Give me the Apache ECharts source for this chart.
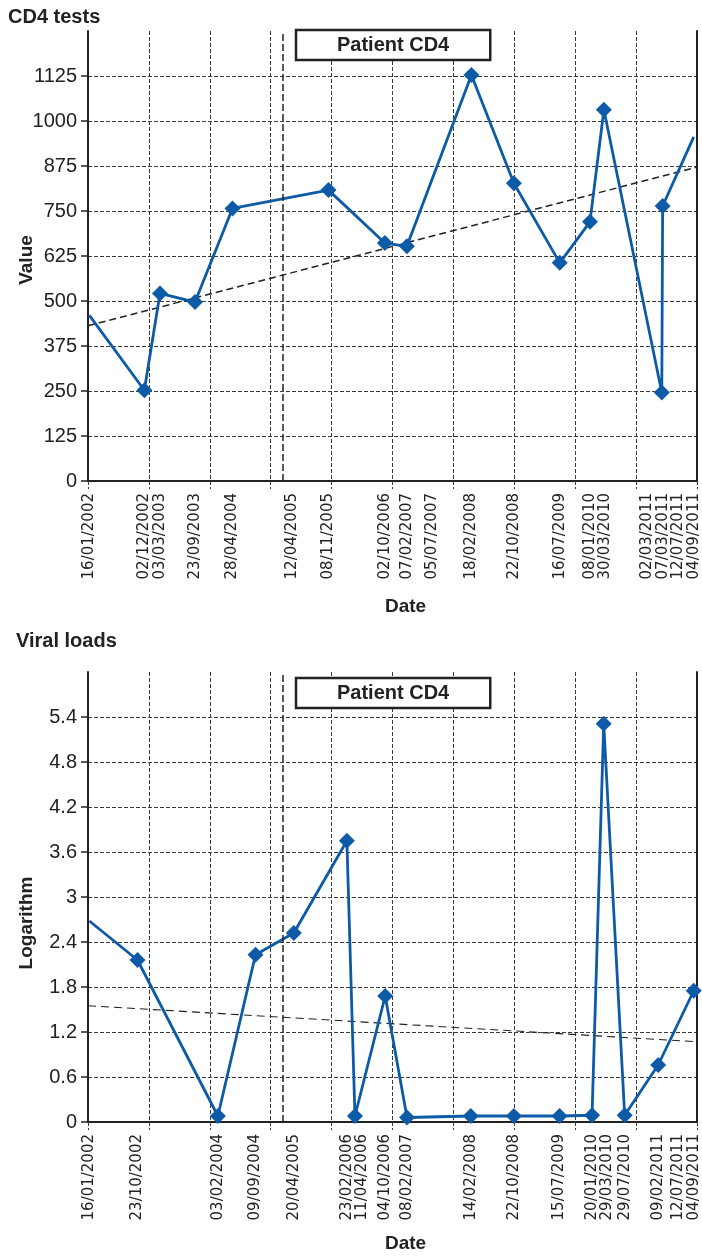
<!DOCTYPE html>
<html>
<head>
<meta charset="utf-8">
<script src="https://cdn.jsdelivr.net/npm/echarts@6/dist/echarts.min.js"></script>
<style>
html,body{margin:0;padding:0;background:#fff;}
#c{width:702px;height:1258px;}
</style>
</head>
<body>
<div id="c"></div>
<script>
// ---------- DATA ----------
const cd4Dates  = ['16/01/2002','02/12/2002','03/03/2003','23/09/2003','28/04/2004','08/11/2005','02/10/2006','07/02/2007','18/02/2008','22/10/2008','16/07/2009','08/01/2010','30/03/2010','02/03/2011','07/03/2011','04/09/2011'];
const cd4Values = [460, 252, 521, 497, 757, 808, 661, 652, 1128, 827, 606, 720, 1031, 246, 764, 956];
const cd4TickLabels = ['16/01/2002','02/12/2002','03/03/2003','23/09/2003','28/04/2004','12/04/2005','08/11/2005','02/10/2006','07/02/2007','05/07/2007','18/02/2008','22/10/2008','16/07/2009','08/01/2010','30/03/2010','02/03/2011','07/03/2011','12/07/2011','04/09/2011'];
const cd4Trend = [431, 872];              // trend value at left / right edge
const cd4YTicks = [0,125,250,375,500,625,750,875,1000,1125];

const vlDates  = ['16/01/2002','23/10/2002','03/02/2004','09/09/2004','20/04/2005','23/02/2006','11/04/2006','04/10/2006','08/02/2007','14/02/2008','22/10/2008','15/07/2009','20/01/2010','29/03/2010','29/07/2010','09/02/2011','04/09/2011'];
const vlValues = [2.68, 2.16, 0.08, 2.23, 2.52, 3.75, 0.08, 1.68, 0.06, 0.08, 0.08, 0.08, 0.09, 5.31, 0.09, 0.76, 1.75];
const vlTickLabels = ['16/01/2002','23/10/2002','03/02/2004','09/09/2004','20/04/2005','23/02/2006','11/04/2006','04/10/2006','08/02/2007','14/02/2008','22/10/2008','15/07/2009','20/01/2010','29/03/2010','29/07/2010','09/02/2011','12/07/2011','04/09/2011'];
const vlTrend = [1.55, 1.07];
const vlYTicks = [0,0.6,1.2,1.8,2.4,3,3.6,4.2,4.8,5.4];

const seriesName = 'Patient CD4';
const eventDate = '16/02/2005';
const axisStart = '08/01/2002', axisEnd = '23/09/2011';

// ---------- HELPERS ----------
function ts(s){ const p = s.split('/').map(Number); return Date.UTC(p[2], p[1]-1, p[0]); }
const X_MIN = ts(axisStart), X_MAX = ts(axisEnd);

const BLUE = '#0d5aa7', INK = '#222222', GRIDC = '#3a3a3a';
const FONT_B = '"Liberation Sans", Arial, sans-serif';
const FONT_T = '"DejaVu Sans", sans-serif';
const FONT_Y = '"Liberation Sans", Arial, sans-serif';

const labelState = [
  { vals: cd4TickLabels.map(ts), texts: cd4TickLabels },
  { vals: vlTickLabels.map(ts), texts: vlTickLabels }
];
function makeFormatter(k){
  return function(v){
    const st = labelState[k];
    let best = 0, bd = Infinity;
    for (let i = 0; i < st.vals.length; i++){ const d = Math.abs(st.vals[i]-v); if (d < bd){ bd = d; best = i; } }
    return st.texts[best];
  };
}

const grids = [
  { left: 88, width: 609, top: 31, height: 450 },
  { left: 88, width: 609, top: 672, height: 450 }
];

function dateAxis(gi){
  return {
    type: 'value', gridIndex: gi, min: X_MIN, max: X_MAX, position: 'bottom',
    axisLine: { show: true, onZero: false, lineStyle: { color: INK, width: 2 } },
    axisTick: { show: false }, splitLine: { show: false },
    axisLabel: { show: true, rotate: 90, margin: 12, color: INK, fontFamily: FONT_T, fontSize: 15,
      hideOverlap: false, customValues: labelState[gi].vals.slice(), formatter: makeFormatter(gi) },
    name: 'Date', nameLocation: 'middle', nameGap: gi === 0 ? 116 : 112, nameMoveOverlap: false,
    nameTextStyle: { color: INK, fontFamily: FONT_B, fontWeight: 'bold', fontSize: 19, padding: [0,0,0,26] }
  };
}
function gridAxis(gi){
  return {
    type: 'value', gridIndex: gi, min: 0, max: 10, interval: 1, position: 'bottom',
    axisLine: { show: false, onZero: false }, axisLabel: { show: false },
    axisTick: { show: true, length: 8, lineStyle: { color: GRIDC, type: [4,2], width: 1 } },
    splitLine: { show: true, lineStyle: { color: GRIDC, type: [4,2], width: 1 } }
  };
}
function valueAxis(gi, max, ticks, name, namePad){
  return {
    type: 'value', gridIndex: gi, min: 0, max: max, position: 'left',
    axisLine: { show: true, onZero: false, lineStyle: { color: INK, width: 2 } },
    axisTick: { show: true, length: 7, customValues: ticks, lineStyle: { color: INK, width: 1.5 } },
    axisLabel: { show: true, margin: 11, customValues: ticks, color: INK, fontFamily: FONT_Y, fontSize: 20,
      formatter: v => String(Math.round(v*10)/10) },
    splitLine: { show: true, lineStyle: { color: GRIDC, type: [4,2], width: 1 } },
    name: name, nameLocation: 'middle', nameRotate: 90, nameGap: 52, nameMoveOverlap: false,
    nameTextStyle: { color: INK, fontFamily: FONT_B, fontWeight: 'bold', fontSize: 19, padding: namePad }
  };
}
function rightAxis(gi, max){
  return { type: 'value', gridIndex: gi, min: 0, max: max, position: 'right',
    axisLine: { show: true, onZero: false, lineStyle: { color: INK, width: 2 } },
    axisTick: { show: false }, axisLabel: { show: false }, splitLine: { show: false } };
}
function legendBox(top){
  return {
    data: [seriesName], left: 296, top: top, orient: 'horizontal', selectedMode: false,
    icon: 'rect', itemWidth: 0, itemHeight: 0, itemGap: 0,
    padding: [5, 41, 5, 36], backgroundColor: '#ffffff', borderColor: INK, borderWidth: 2.5, borderRadius: 0,
    textStyle: { color: INK, fontFamily: FONT_B, fontWeight: 'bold', fontSize: 20 }
  };
}
function mainSeries(xi, yi, dates, values, markLast){
  const n = dates.length;
  return {
    type: 'line', name: seriesName, xAxisIndex: xi, yAxisIndex: yi,
    data: dates.map((d,i) => [ts(d), values[i]]),
    symbol: (v, p) => (p.dataIndex === 0 || (!markLast && p.dataIndex === n-1)) ? 'none' : 'diamond',
    symbolSize: 16, showAllSymbol: true,
    lineStyle: { color: BLUE, width: 2.8 }, itemStyle: { color: BLUE }, z: 4, animation: false,
    markLine: { silent: true, symbol: 'none', label: { show: false }, animation: false,
      lineStyle: { color: INK, type: [7,3], width: 1.5 }, data: [{ xAxis: ts(eventDate) }] }
  };
}
function trendSeries(xi, yi, vals, w, dash){
  return { type: 'line', name: 'trend', xAxisIndex: xi, yAxisIndex: yi,
    data: [[X_MIN, vals[0]], [X_MAX, vals[1]]], symbol: 'none', silent: true, animation: false,
    lineStyle: { color: INK, width: w, type: dash }, z: 3 };
}

const option = {
  animation: false,
  backgroundColor: '#ffffff',
  title: [
    { text: 'CD4 tests', left: 8, top: 7, padding: 0, textStyle: { color: INK, fontFamily: FONT_B, fontWeight: 'bold', fontSize: 20 } },
    { text: 'Viral loads', left: 16, top: 631, padding: 0, textStyle: { color: INK, fontFamily: FONT_B, fontWeight: 'bold', fontSize: 20 } }
  ],
  legend: [ legendBox(30), legendBox(678) ],
  grid: grids.map(g => Object.assign({ containLabel: false, outerBoundsMode: 'none' }, g)),
  xAxis: [ dateAxis(0), gridAxis(0), dateAxis(1), gridAxis(1) ],
  yAxis: [ valueAxis(0, 1250, cd4YTicks, 'Value', [0, 8, 0, 0]), rightAxis(0, 1250),
           valueAxis(1, 6, vlYTicks, 'Logarithm', [0, 52, 0, 0]), rightAxis(1, 6) ],
  series: [
    trendSeries(0, 0, cd4Trend, 1.5, [7,4]),
    mainSeries(0, 0, cd4Dates, cd4Values, false),
    trendSeries(2, 2, vlTrend, 1.1, [8,5]),
    mainSeries(2, 2, vlDates, vlValues, true)
  ]
};

const chart = echarts.init(document.getElementById('c'), null, { renderer: 'canvas' });
chart.setOption(option);

// spread crowded date labels so they do not overlap (computed through the axis scale)
function spread(k, xAxisIndex){
  const st = labelState[k];
  const px = st.vals.map(v => chart.convertToPixel({ xAxisIndex: xAxisIndex }, v));
  const gap = 15.5;
  const g = grids[k];
  const hi = g.left + g.width - 3, lo = g.left;
  const pos = px.slice();
  for (let i = 1; i < pos.length; i++) if (pos[i] < pos[i-1] + gap) pos[i] = pos[i-1] + gap;
  if (pos[pos.length-1] > hi){
    pos[pos.length-1] = hi;
    for (let i = pos.length-2; i >= 0; i--) if (pos[i] > pos[i+1] - gap) pos[i] = pos[i+1] - gap;
  }
  if (pos[0] < lo) pos[0] = lo;
  st.vals = pos.map(p => chart.convertFromPixel({ xAxisIndex: xAxisIndex }, p));
  return st.vals.slice();
}
const v0 = spread(0, 0), v1 = spread(1, 2);
chart.setOption({ xAxis: [ { axisLabel: { customValues: v0 } }, {}, { axisLabel: { customValues: v1 } }, {} ] });
</script>
</body>
</html>
